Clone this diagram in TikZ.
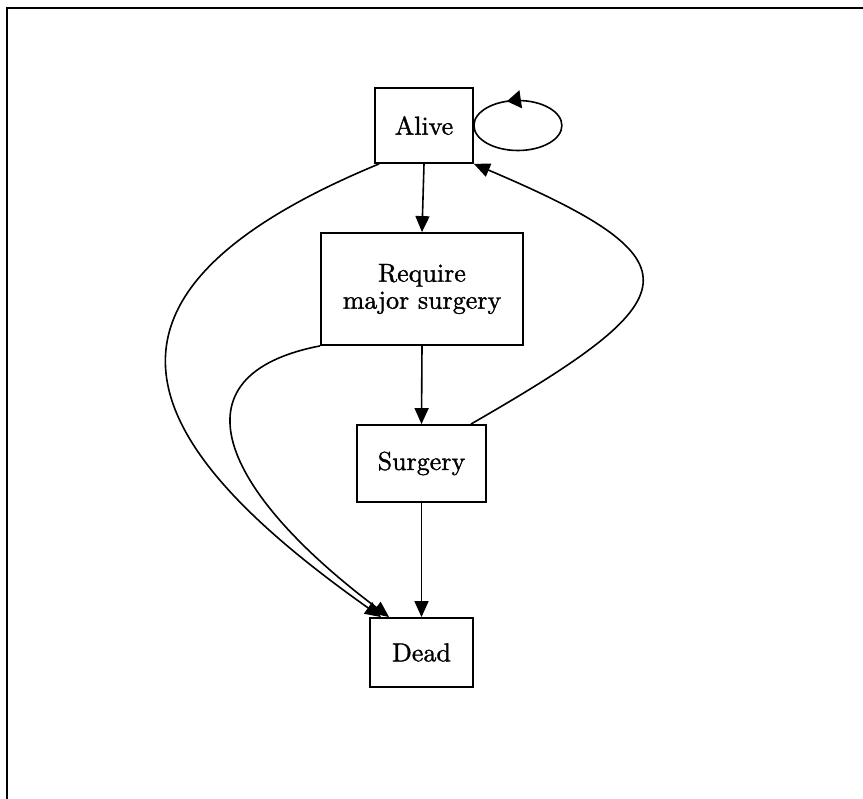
\documentclass[tikz,border=0pt]{standalone}
\usepackage{fontspec}
\setmainfont{lmroman10-regular.otf}[FakeBold=1.2]
\usetikzlibrary{arrows.meta,decorations.markings}
\begin{document}
\begin{tikzpicture}[x=1pt,y=-1pt,
  box/.style={draw, line width=1.8pt, inner sep=0pt, align=center,
    font=\fontsize{26}{27}\selectfont},
  conn/.style={line width=1.6pt},
  arr/.style={conn, -{Triangle[length=16pt,width=14pt]}},
  frameline/.style={line width=2.8pt}]
\useasboundingbox (0,0) rectangle (863,799);
\coordinate (fbl) at (7,799);
\coordinate (ftl) at (7,8);
\coordinate (ftr) at (863,8);
\draw[frameline] (fbl) -- (ftl) -- (ftr);

\node[box, minimum width=98pt, minimum height=75pt] (alive) at (424,125.5) {Alive};
\node[box, minimum width=202pt, minimum height=112pt] (req) at (422,289) {Require\\major surgery};
\node[box, minimum width=129pt, minimum height=77pt] (surg) at (421.5,463.5) {Surgery};
\node[box, minimum width=103pt, minimum height=69pt] (dead) at (421.5,652.5) {Dead};

% straight arrows
\draw[arr] (alive.south) -- (req.north);
\draw[arr] (req.south) -- (surg.north);
\draw[arr] (surg.south) -- (dead.north);

% self loop
\draw[conn, postaction={decorate}, decoration={markings,
   mark=at position 0.80 with {\arrow{Triangle[length=14pt,width=18pt]}}}]
  (alive.east) arc[start angle=180, end angle=540, x radius=44pt, y radius=25pt];

% Surgery -> Alive
\coordinate (s1) at ([xshift=-16pt]surg.north east);
\draw[arr] (s1) .. controls (690,298) and (705,262) .. (alive.south east);

% Alive -> Dead
\coordinate (a1) at ([xshift=5pt]alive.south west);
\coordinate (d1) at ([xshift=12pt]dead.north west);
\draw[arr] (a1) .. controls (50,300) and (145,450) .. (d1);

% Require -> Dead
\coordinate (d2) at ([xshift=20pt]dead.north west);
\draw[arr] (req.south west) .. controls (170,375) and (220,490) .. (d2);
\end{tikzpicture}
\end{document}
